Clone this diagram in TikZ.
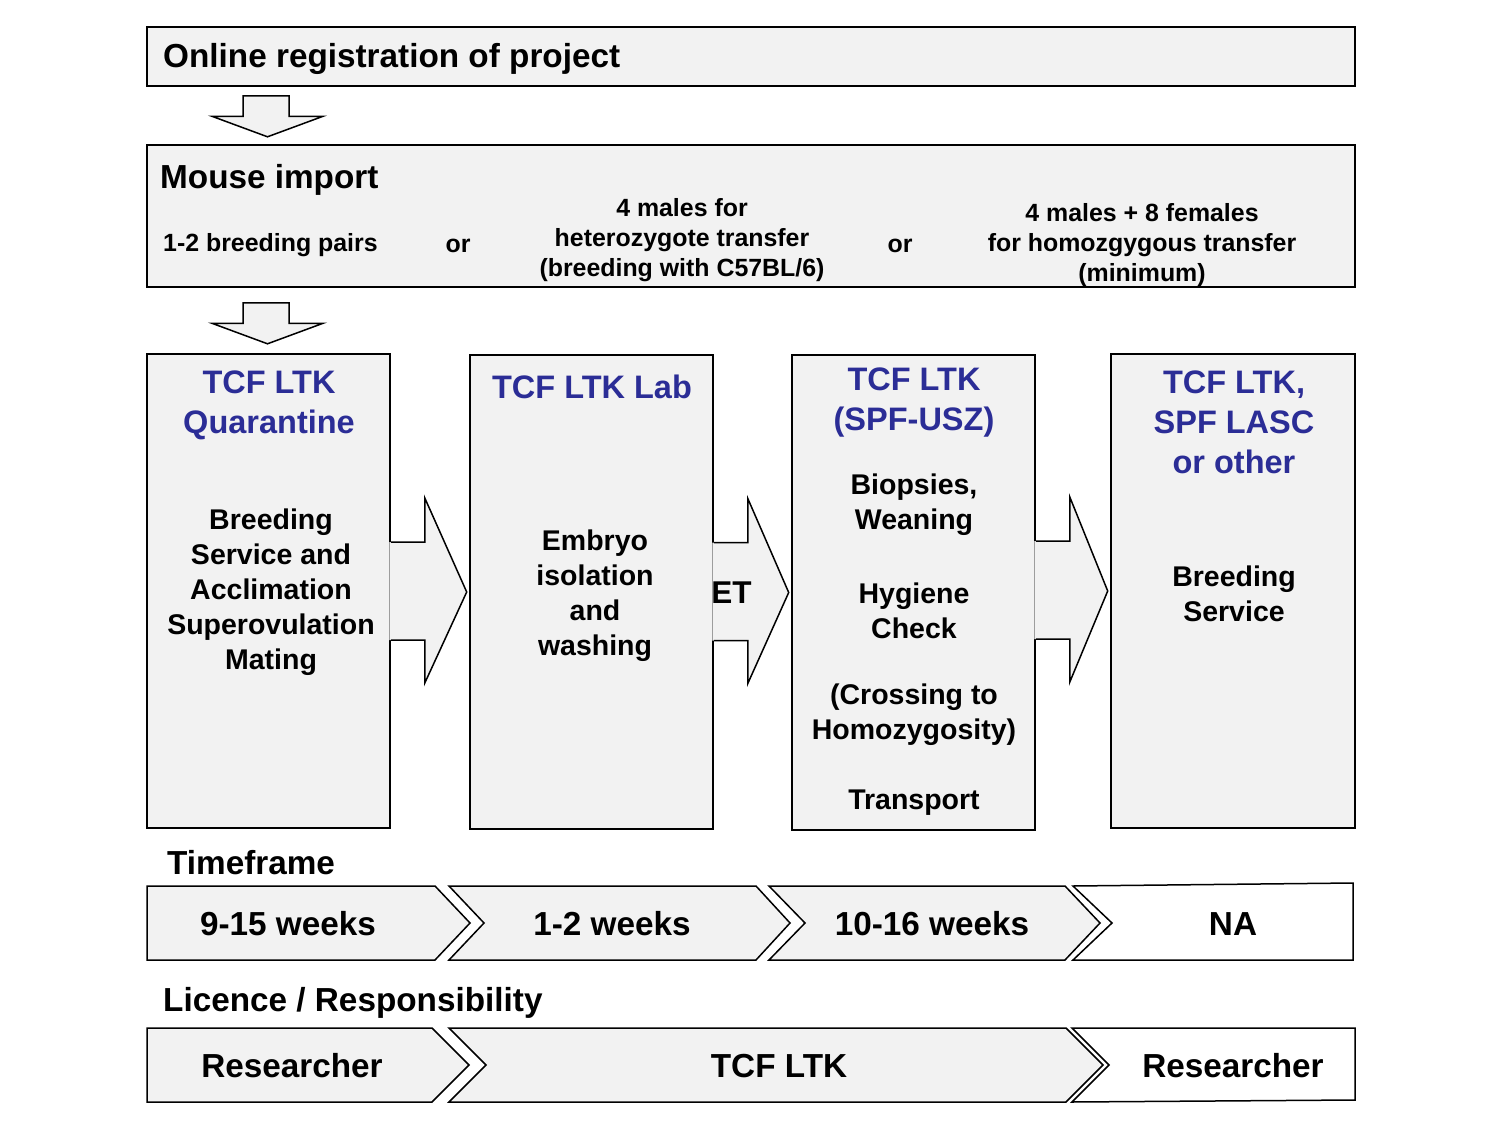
\documentclass[tikz,border=0pt]{standalone}
\usepackage{fontspec}
\setmainfont{Liberation Sans}
\usetikzlibrary{calc}
\definecolor{boxgray}{RGB}{242,242,242}
\definecolor{hdrblue}{RGB}{43,45,150}
\tikzset{
  box/.style={draw=black, fill=boxgray, line width=1.6pt, inner sep=0pt},
  shp/.style={draw=black, line width=1.5pt, line join=miter},
  big/.style={font=\fontsize{33.3}{40}\selectfont\bfseries, inner sep=0pt, align=center, yshift=-2.5pt},
  hdr/.style={font=\fontsize{32.5}{40}\selectfont\bfseries, text=hdrblue, inner sep=0pt, align=center, yshift=-2.5pt},
  body/.style={font=\fontsize{28.5}{35}\selectfont\bfseries, inner sep=0pt, align=center, yshift=-2.5pt},
  small/.style={font=\fontsize{24.9}{30}\selectfont\bfseries, inner sep=0pt, align=center, yshift=-2.5pt},
}
\newcommand\sidearrow[2]{%
  \fill[boxgray] let \p1=(#1.east), \p2=(#2.west) in
    (\x1-1.5pt,\y2+50pt) -- (\x1+34pt,\y2+50pt) -- (\x1+34pt,\y2+94pt) -- (\x2-2.5pt,\y2)
    -- (\x1+34pt,\y2-91pt) -- (\x1+34pt,\y2-48pt) -- (\x1-1.5pt,\y2-48pt) -- cycle;
  \draw[shp] let \p1=(#1.east), \p2=(#2.west) in
    (\x1,\y2+50pt) -- (\x1+34pt,\y2+50pt) -- (\x1+34pt,\y2+94pt) -- (\x2-2.5pt,\y2)
    -- (\x1+34pt,\y2-91pt) -- (\x1+34pt,\y2-48pt) -- (\x1,\y2-48pt);
}
% #1 from node, #2 to node, #3 gap below #1 to arrow top
\newcommand\dnarrow[3]{%
  \draw[shp, fill=boxgray] let \p1=(#1.south) in
    (243pt,\y1-#3) -- (289pt,\y1-#3) -- (289pt,\y1-#3-20.5pt) -- (323pt,\y1-#3-20.5pt) -- (267.5pt,\y1-#3-41pt)
    -- (212pt,\y1-#3-20.5pt) -- (243pt,\y1-#3-20.5pt) -- cycle;
}
\begin{document}
\begin{tikzpicture}[x=1pt, y=-1pt]
\useasboundingbox (0,0) rectangle (1504,1129);
\fill[white] (0,0) rectangle (1504,1129);

% top boxes
\node[box, minimum width=1208pt, minimum height=59pt] (reg) at (751,56.5) {};
\node[big, anchor=west] (regt) at (163,56) {Online registration of project};
\node[box, minimum width=1208pt, minimum height=142pt] (mouse) at (751,216) {};
\node[big, anchor=west] (mouset) at (160,177) {Mouse import};
\node[small, anchor=west] (m1) at (163,243) {1-2 breeding pairs};
\node[small] (or1) at (458,243) {or};
\node[small] (m2) at (682,238) {4 males for\\heterozygote transfer\\(breeding with C57BL/6)};
\node[small] (or2) at (900,243) {or};
\node[small] (m3) at (1142,243) {4 males + 8 females\\for homozgygous transfer\\(minimum)};

% column boxes
\node[box, minimum width=243pt, minimum height=474pt] (q) at (268.5,591) {};
\node[box, minimum width=243pt, minimum height=474pt] (lab) at (591.5,592) {};
\node[box, minimum width=243pt, minimum height=475pt] (spf) at (913.5,592.5) {};
\node[box, minimum width=244pt, minimum height=474pt] (other) at (1233,591) {};

\dnarrow{reg}{mouse}{9pt}
\dnarrow{mouse}{q}{15pt}
\sidearrow{q}{lab}
\sidearrow{lab}{spf}
\sidearrow{spf}{other}

\node[hdr] (qh) at (269,403) {TCF LTK\\Quarantine};
\node[body] (qb) at (271,590) {Breeding\\Service and\\Acclimation\\Superovulation\\Mating};
\node[hdr] (labh) at (592,384) {TCF LTK Lab};
\node[body] (labb) at (595,593.5) {Embryo\\isolation\\and\\washing};
\node[font=\fontsize{31.5}{36}\selectfont\bfseries, inner sep=0pt, yshift=-1pt] (et) at (731.5,592) {ET};
\node[hdr] (spfh) at (914,400) {TCF LTK\\(SPF-USZ)};
\node[body] (spf1) at (914,502.5) {Biopsies,\\Weaning};
\node[body] (spf2) at (914,608.5) {Hygiene\\Check};
\node[body] (spf3) at (914,712.5) {(Crossing to\\Homozygosity)};
\node[body] (spf4) at (914,800) {Transport};
\node[hdr] (otherh) at (1234,420) {TCF LTK,\\SPF LASC\\or other};
\node[body] (otherb) at (1234,591.5) {Breeding\\Service};

% timeframe
\node[big, anchor=west] (tf) at (167,860) {Timeframe};
\draw[shp, fill=boxgray] (147,886) -- (435,886) -- (470,923) -- (435,960) -- (147,960) -- cycle;
\draw[shp, fill=boxgray] (449,886) -- (756,886) -- (790,923) -- (756,960) -- (449,960) -- (484,923) -- cycle;
\draw[shp, fill=boxgray] (769,886) -- (1065,886) -- (1100,923) -- (1065,960) -- (769,960) -- (805,923) -- cycle;
\draw[shp, fill=white] (1073,886) -- (1353,883) -- (1353,960) -- (1073,960) -- (1112,923) -- cycle;
\node[big] (t1) at (288,921.5) {9-15 weeks};
\node[big] (t2) at (612,921.5) {1-2 weeks};
\node[big] (t3) at (932,921.5) {10-16 weeks};
\node[big] (t4) at (1233,921.5) {NA};

% licence
\node[big, anchor=west] (lic) at (163,1000) {Licence / Responsibility};
\draw[shp, fill=boxgray] (147,1028) -- (432,1028) -- (469,1065) -- (432,1102) -- (147,1102) -- cycle;
\draw[shp, fill=boxgray] (449,1028) -- (1066,1028) -- (1103,1065) -- (1066,1102) -- (449,1102) -- (486,1065) -- cycle;
\draw[shp, fill=white] (1072,1028) -- (1355,1028) -- (1355,1100) -- (1072,1102) -- (1109,1065) -- cycle;
\node[big] (r1) at (292,1063.5) {Researcher};
\node[big] (r2) at (779,1063.5) {TCF LTK};
\node[big] (r3) at (1233,1063.5) {Researcher};
\end{tikzpicture}
\end{document}
